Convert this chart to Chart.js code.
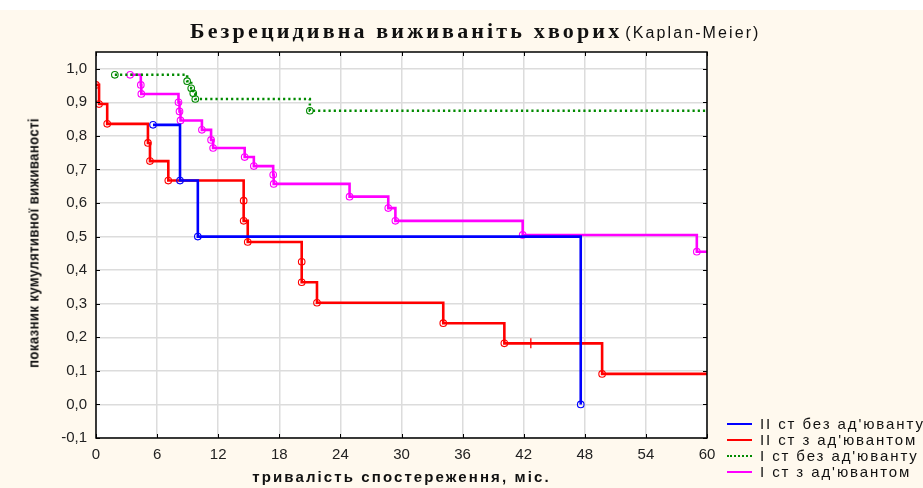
<!DOCTYPE html>
<html>
<head>
<meta charset="utf-8">
<script src="https://cdn.jsdelivr.net/npm/chart.js@4/dist/chart.umd.min.js"></script>
<style>
  html, body { margin:0; padding:0; width:923px; height:488px; overflow:hidden; background:#ffffff; }
  #cream { position:absolute; left:0; top:10px; width:923px; height:478px; background:#FFF9EE; }
  #cv { position:absolute; left:0; top:0; }
  #title { position:absolute; top:18px; left:190px; white-space:nowrap; color:#111; }
  #title .main { font-family:"Liberation Serif", serif; font-weight:bold; font-size:22px; letter-spacing:3.15px; }
  #title .sub { font-family:"Liberation Sans", sans-serif; font-size:16px; letter-spacing:2.1px; margin-left:-1px; }
  #xtitle { position:absolute; top:468px; left:96px; width:611px; text-align:center; font-family:"Liberation Sans", sans-serif; font-weight:bold; font-size:15px; letter-spacing:2.1px; color:#111; white-space:nowrap; }
  #ytitle { position:absolute; left:33px; top:243px; transform:translate(-50%,-50%) rotate(-90deg) scaleX(0.88); font-family:"Liberation Sans", sans-serif; font-weight:bold; font-size:15px; letter-spacing:0.4px; color:#111; white-space:nowrap; }
  #legend { position:absolute; left:727px; top:416px; font-family:"Liberation Sans", sans-serif; font-size:15px; letter-spacing:1.9px; color:#111; white-space:nowrap; }
  #legend .row { height:16px; line-height:16px; display:flex; align-items:center; }
  #legend .sw { width:25px; height:0; margin-right:8px; }
</style>
</head>
<body>
<div id="cream"></div>
<canvas id="cv" width="923" height="488"></canvas>
<div id="title"><span class="main">Безрецидивна виживаніть хворих</span> <span class="sub">(Kaplan-Meier)</span></div>
<div id="xtitle">тривалість спостереження, міс.</div>
<div id="ytitle">показник кумулятивної виживаності</div>
<div id="legend"></div>
<script>
// ---- data ----
const seriesLabels = ["II ст без ад'юванту", "II ст з ад'ювантом", "I ст без ад'юванту", "I ст з ад'ювантом"];

const blueT = [5.6, 8.25, 10.0, 47.6];
const blueS = [0.833, 0.667, 0.500, 0.000];

const redT = [0.0, 0.3, 1.1, 5.1, 5.3, 7.1, 14.5, 14.5, 14.9, 20.2, 20.2, 21.7, 34.1, 40.1, 49.7];
const redS = [0.952, 0.895, 0.836, 0.779, 0.725, 0.667, 0.607, 0.547, 0.484, 0.425, 0.364, 0.303, 0.242, 0.182, 0.091];
const redCensoredT = [42.7];
const redCensoredS = [0.182];

const greenT = [1.85, 8.95, 9.35, 9.55, 9.75, 21.0];
const greenS = [0.982, 0.963, 0.942, 0.927, 0.910, 0.875];

const magentaT = [3.35, 4.4, 4.45, 8.1, 8.2, 8.3, 10.4, 11.3, 11.5, 14.6, 15.5, 17.4, 17.45, 24.9, 28.7, 29.4, 41.9, 59.0];
const magentaS = [0.982, 0.952, 0.925, 0.900, 0.873, 0.846, 0.818, 0.788, 0.764, 0.737, 0.710, 0.684, 0.657, 0.619, 0.585, 0.547, 0.505, 0.455];

const followUpEnd = [null, 60, 60, 60];   // curve continues to this time after its last event
const xTicks = [0, 6, 12, 18, 24, 30, 36, 42, 48, 54, 60];
const yTicks = [-0.1, 0.0, 0.1, 0.2, 0.3, 0.4, 0.5, 0.6, 0.7, 0.8, 0.9, 1.0];

// ---- build ----
const colors = ['#0000FF', '#FF0000', '#008A00', '#FF00FF'];
const allT = [blueT, redT, greenT, magentaT];
const allS = [blueS, redS, greenS, magentaS];

function curve(i) {
  const pts = allT[i].map((t, k) => ({x: t, y: allS[i][k]}));
  if (followUpEnd[i] !== null) pts.push({x: followUpEnd[i], y: allS[i][allS[i].length - 1]});
  return pts;
}

const datasets = [];
for (let i = 0; i < 4; i++) {
  const nEv = allT[i].length;
  datasets.push({
    label: seriesLabels[i],
    data: curve(i),
    stepped: 'before',
    borderColor: colors[i],
    borderWidth: i === 2 ? 2.5 : 2.6,
    borderDash: i === 2 ? [2.2, 3] : [],
    borderCapStyle: 'butt',
    pointStyle: 'circle',
    pointRadius: ctx => ctx.dataIndex < nEv ? 3.3 : 0,
    pointHoverRadius: 0,
    pointBorderWidth: 1.1,
    pointBorderColor: colors[i],
    pointBackgroundColor: 'rgba(255,255,255,0)',
    fill: false,
    tension: 0
  });
}
// censored mark (red)
datasets.splice(2, 0, {
  label: 'censored',
  data: redCensoredT.map((t, k) => ({x: t, y: redCensoredS[k]})),
  showLine: false,
  pointStyle: 'line',
  rotation: 90,
  pointRadius: 5,
  pointBorderWidth: 1.3,
  borderColor: colors[1],
  pointBorderColor: colors[1]
});

const plotBg = {
  id: 'plotBg',
  beforeDraw(chart) {
    const {ctx, chartArea: a} = chart;
    ctx.save();
    ctx.fillStyle = '#ffffff';
    ctx.fillRect(a.left, a.top, a.right - a.left, a.bottom - a.top);
    ctx.restore();
  }
};
const frame = {
  id: 'frame',
  afterDraw(chart) {
    const {ctx, chartArea: a, scales} = chart;
    ctx.save();
    ctx.strokeStyle = '#000';
    ctx.lineWidth = 1.5;
    ctx.strokeRect(a.left, a.top, a.right - a.left, a.bottom - a.top);
    ctx.lineWidth = 1;
    ctx.beginPath();
    xTicks.forEach(v => {
      const px = Math.round(scales.x.getPixelForValue(v)) + 0.5;
      ctx.moveTo(px, a.bottom); ctx.lineTo(px, a.bottom - 4);
      ctx.moveTo(px, a.top); ctx.lineTo(px, a.top + 4);
    });
    yTicks.forEach(v => {
      const py = Math.round(scales.y.getPixelForValue(v)) + 0.5;
      ctx.moveTo(a.left, py); ctx.lineTo(a.left + 4, py);
      ctx.moveTo(a.right, py); ctx.lineTo(a.right - 4, py);
    });
    ctx.stroke();
    ctx.restore();
  }
};

new Chart(document.getElementById('cv'), {
  type: 'line',
  data: { datasets },
  options: {
    responsive: false,
    animation: false,
    events: [],
    layout: { padding: { left: 0, right: 216, top: 52, bottom: 0 } },
    plugins: { legend: { display: false }, title: { display: false }, tooltip: { enabled: false } },
    scales: {
      x: {
        type: 'linear', min: 0, max: 60,
        afterBuildTicks: s => { s.ticks = xTicks.map(v => ({value: v})); },
        afterFit: s => { s.height = 50; },
        grid: { color: '#dcdcdc', lineWidth: 1.5, drawTicks: false },
        border: { display: false },
        ticks: { padding: 8, color: '#222', font: { family: 'Liberation Sans', size: 15 }, maxRotation: 0, autoSkip: false }
      },
      y: {
        type: 'linear', min: -0.1, max: 1.05,
        afterBuildTicks: s => { s.ticks = yTicks.map(v => ({value: v})); },
        afterFit: s => { s.width = 96; },
        grid: { color: '#dcdcdc', lineWidth: 1.5, drawTicks: false },
        border: { display: false },
        ticks: { padding: 9, color: '#222', font: { family: 'Liberation Sans', size: 15 },
                 callback: v => v.toFixed(1).replace('.', ',').replace('-0,0', '0,0') }
      }
    }
  },
  plugins: [plotBg, frame]
});

// legend (HTML) built from the series
const lg = document.getElementById('legend');
seriesLabels.forEach((lab, i) => {
  const row = document.createElement('div');
  row.className = 'row';
  const sw = document.createElement('span');
  sw.className = 'sw';
  sw.style.borderTop = (i === 2 ? '2.5px dotted ' : '2.5px solid ') + colors[i];
  const tx = document.createElement('span');
  tx.textContent = lab;
  row.appendChild(sw); row.appendChild(tx);
  lg.appendChild(row);
});
</script>
</body>
</html>
